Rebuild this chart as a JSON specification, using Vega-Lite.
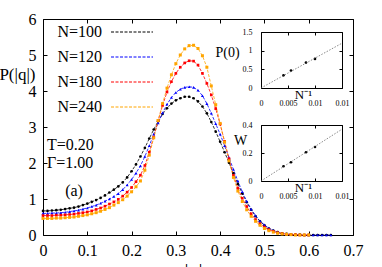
{
"$schema": "https://vega.github.io/schema/vega-lite/v6.json",
"width": 310, "height": 216,
"autosize": {"type": "none"},
"padding": {"left": 43, "top": 19, "right": 29, "bottom": 32},
"config": {"font": "Liberation Serif", "view": {"stroke": null},
  "axis": {"grid": false, "domainColor": "black", "tickColor": "black", "labelColor": "black", "titleColor": "black", "titleFontWeight": "normal", "labelFlush": false, "labelOverlap": false, "labelBound": false, "domainWidth": 1, "tickWidth": 1}},
"layer": [
{
 "data": {"values": [
{"N":"N=100","q":0,"P":0.67},{"N":"N=100","q":0.01,"P":0.67},{"N":"N=100","q":0.02,"P":0.68},{"N":"N=100","q":0.03,"P":0.69},{"N":"N=100","q":0.04,"P":0.7},{"N":"N=100","q":0.05,"P":0.72},{"N":"N=100","q":0.06,"P":0.74},{"N":"N=100","q":0.07,"P":0.76},{"N":"N=100","q":0.08,"P":0.79},{"N":"N=100","q":0.09,"P":0.83},
{"N":"N=100","q":0.1,"P":0.87},{"N":"N=100","q":0.11,"P":0.92},{"N":"N=100","q":0.12,"P":0.97},{"N":"N=100","q":0.13,"P":1.03},{"N":"N=100","q":0.14,"P":1.1},{"N":"N=100","q":0.15,"P":1.18},{"N":"N=100","q":0.16,"P":1.26},{"N":"N=100","q":0.17,"P":1.35},{"N":"N=100","q":0.18,"P":1.46},{"N":"N=100","q":0.19,"P":1.6},
{"N":"N=100","q":0.2,"P":1.77},{"N":"N=100","q":0.21,"P":1.96},{"N":"N=100","q":0.22,"P":2.18},{"N":"N=100","q":0.23,"P":2.42},{"N":"N=100","q":0.24,"P":2.68},{"N":"N=100","q":0.25,"P":2.93},{"N":"N=100","q":0.26,"P":3.16},{"N":"N=100","q":0.27,"P":3.36},{"N":"N=100","q":0.28,"P":3.52},{"N":"N=100","q":0.29,"P":3.65},
{"N":"N=100","q":0.3,"P":3.74},{"N":"N=100","q":0.31,"P":3.8},{"N":"N=100","q":0.32,"P":3.84},{"N":"N=100","q":0.33,"P":3.84},{"N":"N=100","q":0.34,"P":3.8},{"N":"N=100","q":0.35,"P":3.71},{"N":"N=100","q":0.36,"P":3.57},{"N":"N=100","q":0.37,"P":3.38},{"N":"N=100","q":0.38,"P":3.14},{"N":"N=100","q":0.39,"P":2.87},
{"N":"N=100","q":0.4,"P":2.59},{"N":"N=100","q":0.41,"P":2.3},{"N":"N=100","q":0.42,"P":2.01},{"N":"N=100","q":0.43,"P":1.71},{"N":"N=100","q":0.44,"P":1.42},{"N":"N=100","q":0.45,"P":1.15},{"N":"N=100","q":0.46,"P":0.91},{"N":"N=100","q":0.47,"P":0.7},{"N":"N=100","q":0.48,"P":0.52},{"N":"N=100","q":0.49,"P":0.38},
{"N":"N=100","q":0.5,"P":0.27},{"N":"N=100","q":0.51,"P":0.18},{"N":"N=100","q":0.52,"P":0.12},{"N":"N=100","q":0.53,"P":0.08},{"N":"N=100","q":0.54,"P":0.05},{"N":"N=100","q":0.55,"P":0.03},{"N":"N=100","q":0.56,"P":0.02},{"N":"N=100","q":0.57,"P":0.01},{"N":"N=100","q":0.58,"P":0.01},{"N":"N=100","q":0.59,"P":0},
{"N":"N=100","q":0.6,"P":0},{"N":"N=100","q":0.61,"P":0},{"N":"N=100","q":0.62,"P":0},{"N":"N=100","q":0.63,"P":0},{"N":"N=100","q":0.64,"P":0},{"N":"N=100","q":0.65,"P":0},
{"N":"N=120","q":0,"P":0.6},{"N":"N=120","q":0.01,"P":0.6},{"N":"N=120","q":0.02,"P":0.61},{"N":"N=120","q":0.03,"P":0.61},{"N":"N=120","q":0.04,"P":0.62},{"N":"N=120","q":0.05,"P":0.63},{"N":"N=120","q":0.06,"P":0.65},{"N":"N=120","q":0.07,"P":0.67},{"N":"N=120","q":0.08,"P":0.69},{"N":"N=120","q":0.09,"P":0.72},
{"N":"N=120","q":0.1,"P":0.75},{"N":"N=120","q":0.11,"P":0.79},{"N":"N=120","q":0.12,"P":0.83},{"N":"N=120","q":0.13,"P":0.88},{"N":"N=120","q":0.14,"P":0.94},{"N":"N=120","q":0.15,"P":1.0},{"N":"N=120","q":0.16,"P":1.07},{"N":"N=120","q":0.17,"P":1.15},{"N":"N=120","q":0.18,"P":1.26},{"N":"N=120","q":0.19,"P":1.39},
{"N":"N=120","q":0.2,"P":1.54},{"N":"N=120","q":0.21,"P":1.72},{"N":"N=120","q":0.22,"P":1.92},{"N":"N=120","q":0.23,"P":2.18},{"N":"N=120","q":0.24,"P":2.48},{"N":"N=120","q":0.25,"P":2.8},{"N":"N=120","q":0.26,"P":3.11},{"N":"N=120","q":0.27,"P":3.39},{"N":"N=120","q":0.28,"P":3.63},{"N":"N=120","q":0.29,"P":3.82},
{"N":"N=120","q":0.3,"P":3.96},{"N":"N=120","q":0.31,"P":4.05},{"N":"N=120","q":0.32,"P":4.1},{"N":"N=120","q":0.33,"P":4.12},{"N":"N=120","q":0.34,"P":4.1},{"N":"N=120","q":0.35,"P":4.02},{"N":"N=120","q":0.36,"P":3.87},{"N":"N=120","q":0.37,"P":3.65},{"N":"N=120","q":0.38,"P":3.38},{"N":"N=120","q":0.39,"P":3.09},
{"N":"N=120","q":0.4,"P":2.8},{"N":"N=120","q":0.41,"P":2.48},{"N":"N=120","q":0.42,"P":2.15},{"N":"N=120","q":0.43,"P":1.82},{"N":"N=120","q":0.44,"P":1.5},{"N":"N=120","q":0.45,"P":1.2},{"N":"N=120","q":0.46,"P":0.94},{"N":"N=120","q":0.47,"P":0.72},{"N":"N=120","q":0.48,"P":0.54},{"N":"N=120","q":0.49,"P":0.39},
{"N":"N=120","q":0.5,"P":0.28},{"N":"N=120","q":0.51,"P":0.19},{"N":"N=120","q":0.52,"P":0.13},{"N":"N=120","q":0.53,"P":0.08},{"N":"N=120","q":0.54,"P":0.05},{"N":"N=120","q":0.55,"P":0.03},{"N":"N=120","q":0.56,"P":0.02},{"N":"N=120","q":0.57,"P":0.01},{"N":"N=120","q":0.58,"P":0.01},{"N":"N=120","q":0.59,"P":0},
{"N":"N=120","q":0.6,"P":0},{"N":"N=120","q":0.61,"P":0},{"N":"N=120","q":0.62,"P":0},{"N":"N=120","q":0.63,"P":0},{"N":"N=120","q":0.64,"P":0},{"N":"N=120","q":0.65,"P":0},
{"N":"N=180","q":0,"P":0.54},{"N":"N=180","q":0.01,"P":0.54},{"N":"N=180","q":0.02,"P":0.54},{"N":"N=180","q":0.03,"P":0.55},{"N":"N=180","q":0.04,"P":0.55},{"N":"N=180","q":0.05,"P":0.56},{"N":"N=180","q":0.06,"P":0.57},{"N":"N=180","q":0.07,"P":0.58},{"N":"N=180","q":0.08,"P":0.6},{"N":"N=180","q":0.09,"P":0.62},
{"N":"N=180","q":0.1,"P":0.64},{"N":"N=180","q":0.11,"P":0.67},{"N":"N=180","q":0.12,"P":0.71},{"N":"N=180","q":0.13,"P":0.75},{"N":"N=180","q":0.14,"P":0.8},{"N":"N=180","q":0.15,"P":0.86},{"N":"N=180","q":0.16,"P":0.92},{"N":"N=180","q":0.17,"P":0.99},{"N":"N=180","q":0.18,"P":1.08},{"N":"N=180","q":0.19,"P":1.19},
{"N":"N=180","q":0.2,"P":1.32},{"N":"N=180","q":0.21,"P":1.48},{"N":"N=180","q":0.22,"P":1.66},{"N":"N=180","q":0.23,"P":1.93},{"N":"N=180","q":0.24,"P":2.3},{"N":"N=180","q":0.25,"P":2.72},{"N":"N=180","q":0.26,"P":3.18},{"N":"N=180","q":0.27,"P":3.6},{"N":"N=180","q":0.28,"P":3.97},{"N":"N=180","q":0.29,"P":4.26},
{"N":"N=180","q":0.3,"P":4.49},{"N":"N=180","q":0.31,"P":4.66},{"N":"N=180","q":0.32,"P":4.78},{"N":"N=180","q":0.33,"P":4.84},{"N":"N=180","q":0.34,"P":4.83},{"N":"N=180","q":0.35,"P":4.72},{"N":"N=180","q":0.36,"P":4.49},{"N":"N=180","q":0.37,"P":4.21},{"N":"N=180","q":0.38,"P":3.89},{"N":"N=180","q":0.39,"P":3.51},
{"N":"N=180","q":0.4,"P":3.08},{"N":"N=180","q":0.41,"P":2.6},{"N":"N=180","q":0.42,"P":2.12},{"N":"N=180","q":0.43,"P":1.66},{"N":"N=180","q":0.44,"P":1.3},{"N":"N=180","q":0.45,"P":1.02},{"N":"N=180","q":0.46,"P":0.79},{"N":"N=180","q":0.47,"P":0.59},{"N":"N=180","q":0.48,"P":0.43},{"N":"N=180","q":0.49,"P":0.31},
{"N":"N=180","q":0.5,"P":0.22},{"N":"N=180","q":0.51,"P":0.15},{"N":"N=180","q":0.52,"P":0.1},{"N":"N=180","q":0.53,"P":0.06},{"N":"N=180","q":0.54,"P":0.04},{"N":"N=180","q":0.55,"P":0.02},{"N":"N=180","q":0.56,"P":0.01},{"N":"N=180","q":0.57,"P":0.01},{"N":"N=180","q":0.58,"P":0},{"N":"N=180","q":0.59,"P":0},{"N":"N=180","q":0.6,"P":0},
{"N":"N=240","q":0,"P":0.46},{"N":"N=240","q":0.01,"P":0.46},{"N":"N=240","q":0.02,"P":0.46},{"N":"N=240","q":0.03,"P":0.47},{"N":"N=240","q":0.04,"P":0.47},{"N":"N=240","q":0.05,"P":0.48},{"N":"N=240","q":0.06,"P":0.49},{"N":"N=240","q":0.07,"P":0.5},{"N":"N=240","q":0.08,"P":0.52},{"N":"N=240","q":0.09,"P":0.54},
{"N":"N=240","q":0.1,"P":0.56},{"N":"N=240","q":0.11,"P":0.59},{"N":"N=240","q":0.12,"P":0.62},{"N":"N=240","q":0.13,"P":0.66},{"N":"N=240","q":0.14,"P":0.71},{"N":"N=240","q":0.15,"P":0.76},{"N":"N=240","q":0.16,"P":0.83},{"N":"N=240","q":0.17,"P":0.9},{"N":"N=240","q":0.18,"P":0.98},{"N":"N=240","q":0.19,"P":1.08},
{"N":"N=240","q":0.2,"P":1.2},{"N":"N=240","q":0.21,"P":1.34},{"N":"N=240","q":0.22,"P":1.5},{"N":"N=240","q":0.23,"P":1.8},{"N":"N=240","q":0.24,"P":2.22},{"N":"N=240","q":0.25,"P":2.7},{"N":"N=240","q":0.26,"P":3.18},{"N":"N=240","q":0.27,"P":3.65},{"N":"N=240","q":0.28,"P":4.08},{"N":"N=240","q":0.29,"P":4.45},
{"N":"N=240","q":0.3,"P":4.76},{"N":"N=240","q":0.31,"P":5.0},{"N":"N=240","q":0.32,"P":5.17},{"N":"N=240","q":0.33,"P":5.26},{"N":"N=240","q":0.34,"P":5.27},{"N":"N=240","q":0.35,"P":5.18},{"N":"N=240","q":0.36,"P":4.98},{"N":"N=240","q":0.37,"P":4.66},{"N":"N=240","q":0.38,"P":4.14},{"N":"N=240","q":0.39,"P":3.62},
{"N":"N=240","q":0.4,"P":3.1},{"N":"N=240","q":0.41,"P":2.58},{"N":"N=240","q":0.42,"P":2.06},{"N":"N=240","q":0.43,"P":1.6},{"N":"N=240","q":0.44,"P":1.22},{"N":"N=240","q":0.45,"P":0.93},{"N":"N=240","q":0.46,"P":0.7},{"N":"N=240","q":0.47,"P":0.52},{"N":"N=240","q":0.48,"P":0.38},{"N":"N=240","q":0.49,"P":0.27},
{"N":"N=240","q":0.5,"P":0.18},{"N":"N=240","q":0.51,"P":0.12},{"N":"N=240","q":0.52,"P":0.08},{"N":"N=240","q":0.53,"P":0.05},{"N":"N=240","q":0.54,"P":0.03},{"N":"N=240","q":0.55,"P":0.02},{"N":"N=240","q":0.56,"P":0.01},{"N":"N=240","q":0.57,"P":0},{"N":"N=240","q":0.58,"P":0},{"N":"N=240","q":0.59,"P":0},{"N":"N=240","q":0.6,"P":0}
 ]},
 "layer": [
  {"mark": {"type": "line", "strokeWidth": 0.8, "strokeDash": [3, 1.5]},
   "encoding": {
    "x": {"field": "q", "type": "quantitative", "scale": {"domain": [0, 0.7], "nice": false, "zero": false},
      "axis": {"orient": "bottom", "values": [0,0.1,0.2,0.3,0.4,0.5,0.6,0.7], "format": "~g", "tickSize": -4, "labelPadding": 11, "labelFontSize": 16,
        "title": "|q|", "titleFontSize": 20, "titleX": 150, "titleY": 26, "titleBaseline": "top"}},
    "y": {"field": "P", "type": "quantitative", "scale": {"domain": [0, 6], "nice": false},
      "axis": {"orient": "left", "values": [0,1,2,3,4,5,6], "tickSize": -4, "labelPadding": 11, "labelFontSize": 16,
        "title": "P(|q|)", "titleFontSize": 17, "titleAngle": 0, "titleAlign": "right", "titleBaseline": "middle", "titleX": -8, "titleY": 55}},
    "color": {"field": "N", "type": "nominal",
      "scale": {"domain": ["N=100","N=120","N=180","N=240"], "range": ["#000000","#0000ff","#ff0000","#ffa500"]},
      "legend": {"orient": "none", "legendX": 81, "legendY": 5, "title": null, "symbolType": "M-3,0H3", "symbolSize": 196,
        "symbolStrokeWidth": 1, "symbolDash": [3, 1.5], "labelAlign": "right", "labelOffset": -38, "labelFontSize": 16,
        "labelLimit": 0, "rowPadding": 9}}
   }},
  {"transform": [{"filter": "datum.N == 'N=100'"}],
   "mark": {"type": "point", "filled": true, "size": 7, "opacity": 1, "shape": "circle"},
   "encoding": {
    "x": {"field": "q", "type": "quantitative", "axis": {"orient": "top", "values": [0,0.1,0.2,0.3,0.4,0.5,0.6,0.7], "tickSize": -4, "labels": false, "title": null}},
    "y": {"field": "P", "type": "quantitative", "axis": {"orient": "right", "values": [0,1,2,3,4,5,6], "tickSize": -4, "labels": false, "title": null}},
    "color": {"field": "N", "type": "nominal", "legend": null}
   }},
  {"transform": [{"filter": "datum.N == 'N=120'"}],
   "mark": {"type": "point", "filled": true, "size": 9, "opacity": 1, "shape": "triangle-up"},
   "encoding": {
    "x": {"field": "q", "type": "quantitative", "axis": null},
    "y": {"field": "P", "type": "quantitative", "axis": null},
    "color": {"field": "N", "type": "nominal", "legend": null}
   }},
  {"transform": [{"filter": "datum.N == 'N=180'"}],
   "mark": {"type": "point", "filled": true, "size": 7, "opacity": 1, "shape": "square"},
   "encoding": {
    "x": {"field": "q", "type": "quantitative", "axis": null},
    "y": {"field": "P", "type": "quantitative", "axis": null},
    "color": {"field": "N", "type": "nominal", "legend": null}
   }},
  {"transform": [{"filter": "datum.N == 'N=240'"}],
   "mark": {"type": "point", "filled": true, "size": 9, "opacity": 1, "shape": "square"},
   "encoding": {
    "x": {"field": "q", "type": "quantitative", "axis": null},
    "y": {"field": "P", "type": "quantitative", "axis": null},
    "color": {"field": "N", "type": "nominal", "legend": null}
   }},
  {"data": {"values": [{}]}, "mark": {"type": "text", "text": "T=0.20", "align": "left", "baseline": "middle", "fontSize": 16, "color": "black"},
   "encoding": {"x": {"datum": 0.009, "type": "quantitative", "axis": null}, "y": {"datum": 2.5, "type": "quantitative", "axis": null}}},
  {"data": {"values": [{}]}, "mark": {"type": "text", "text": "Γ=1.00", "align": "left", "baseline": "middle", "fontSize": 16, "color": "black"},
   "encoding": {"x": {"datum": 0.009, "type": "quantitative", "axis": null}, "y": {"datum": 2.0, "type": "quantitative", "axis": null}}},
  {"data": {"values": [{}]}, "mark": {"type": "text", "text": "(a)", "align": "left", "baseline": "middle", "fontSize": 16, "color": "black"},
   "encoding": {"x": {"datum": 0.05, "type": "quantitative", "axis": null}, "y": {"datum": 1.22, "type": "quantitative", "axis": null}}}
 ],
 "resolve": {"axis": {"x": "independent", "y": "independent"}}
},
{
 "data": {"values": [{"invN": 0.004167, "val": 0.34}, {"invN": 0.005556, "val": 0.47}, {"invN": 0.008333, "val": 0.68}, {"invN": 0.01, "val": 0.78}]},
 "layer": [
  {"mark": {"type": "point", "filled": true, "size": 7, "color": "black", "opacity": 1},
   "encoding": {
    "x": {"field": "invN", "type": "quantitative", "scale": {"domain": [0, 0.015], "range": [218, 299], "nice": false, "zero": false},
      "axis": {"orient": "bottom", "offset": -147, "values": [0,0.005,0.01,0.015], "format": "~g", "tickSize": -3, "labelPadding": 14, "labelFontSize": 8,
        "title": "N⁻¹", "titleFontSize": 13, "titleX": 260, "titleY": 6, "titleBaseline": "middle"}},
    "y": {"field": "val", "type": "quantitative", "scale": {"domain": [0, 1.5], "range": [69, 13], "nice": false},
      "axis": {"orient": "left", "offset": -218, "values": [0,0.5,1,1.5], "format": "~g", "tickSize": -3, "labelPadding": 12, "labelFontSize": 8,
        "title": "P(0)", "titleFontSize": 14, "titleAngle": 0, "titleAlign": "center", "titleBaseline": "middle", "titleX": -34, "titleY": 33}}
   }},
  {"data": {"values": [{"invN": 0, "val": 0}, {"invN": 0.015, "val": 1.2}]},
   "mark": {"type": "line", "strokeWidth": 0.7, "strokeDash": [1.5, 1.5], "color": "#555555"},
   "encoding": {
    "x": {"field": "invN", "type": "quantitative", "axis": {"orient": "top", "offset": -13, "values": [0,0.005,0.01,0.015], "tickSize": -3, "labels": false, "title": null}},
    "y": {"field": "val", "type": "quantitative", "axis": {"orient": "right", "offset": -11, "values": [0,0.5,1,1.5], "tickSize": -3, "labels": false, "title": null}}
   }}
 ],
 "resolve": {"axis": {"x": "independent", "y": "independent"}}
},
{
 "data": {"values": [{"invN": 0.004167, "val": 0.105}, {"invN": 0.005556, "val": 0.134}, {"invN": 0.008333, "val": 0.205}, {"invN": 0.01, "val": 0.243}]},
 "layer": [
  {"mark": {"type": "point", "filled": true, "size": 7, "color": "black", "opacity": 1},
   "encoding": {
    "x": {"field": "invN", "type": "quantitative", "scale": {"domain": [0, 0.015], "range": [218, 299], "nice": false, "zero": false},
      "axis": {"orient": "bottom", "offset": -54, "values": [0,0.005,0.01,0.015], "format": "~g", "tickSize": -3, "labelPadding": 14, "labelFontSize": 8,
        "title": "N⁻¹", "titleFontSize": 13, "titleX": 260, "titleY": 6, "titleBaseline": "middle"}},
    "y": {"field": "val", "type": "quantitative", "scale": {"domain": [0, 0.4], "range": [162, 106], "nice": false},
      "axis": {"orient": "left", "offset": -218, "values": [0,0.2,0.4], "format": "~g", "tickSize": -3, "labelPadding": 12, "labelFontSize": 8,
        "title": "W", "titleFontSize": 14, "titleAngle": 0, "titleAlign": "center", "titleBaseline": "middle", "titleX": -21, "titleY": 121}}
   }},
  {"data": {"values": [{"invN": 0, "val": 0}, {"invN": 0.015, "val": 0.37}]},
   "mark": {"type": "line", "strokeWidth": 0.7, "strokeDash": [1.5, 1.5], "color": "#555555"},
   "encoding": {
    "x": {"field": "invN", "type": "quantitative", "axis": {"orient": "top", "offset": -106, "values": [0,0.005,0.01,0.015], "tickSize": -3, "labels": false, "title": null}},
    "y": {"field": "val", "type": "quantitative", "axis": {"orient": "right", "offset": -11, "values": [0,0.2,0.4], "tickSize": -3, "labels": false, "title": null}}
   }}
 ],
 "resolve": {"axis": {"x": "independent", "y": "independent"}}
}
],
"resolve": {"scale": {"x": "independent", "y": "independent"}, "axis": {"x": "independent", "y": "independent"}}
}
